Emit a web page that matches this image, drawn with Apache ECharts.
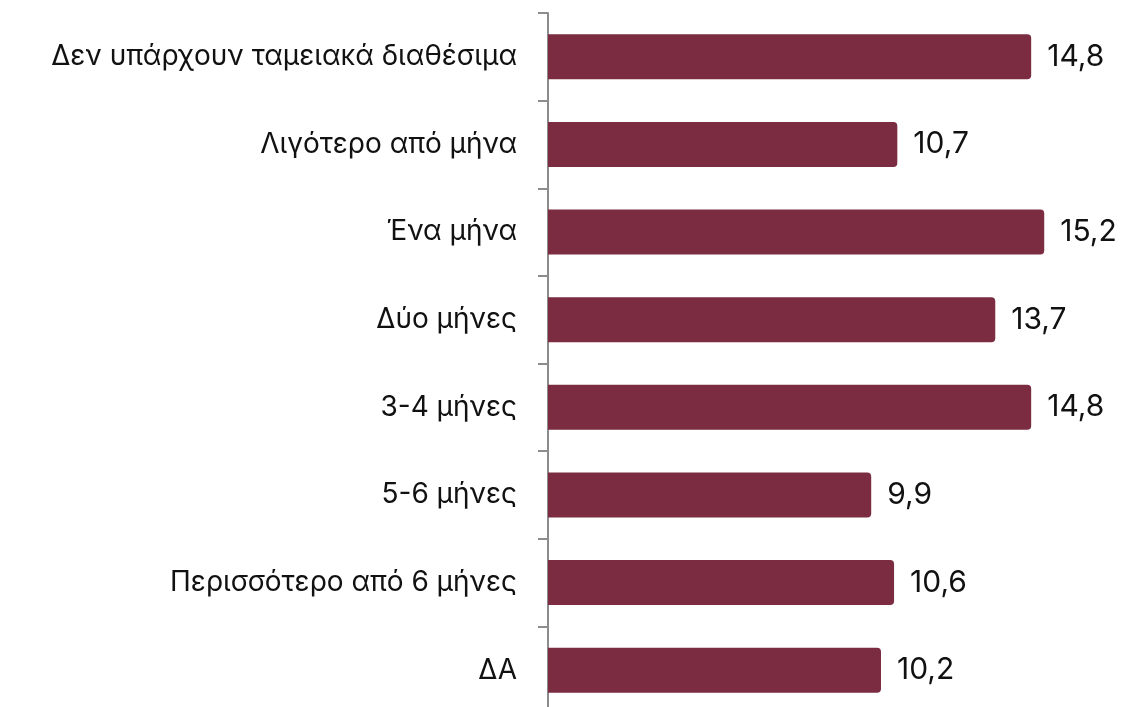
<!DOCTYPE html>
<html>
<head>
<meta charset="utf-8">
<script src="https://cdn.jsdelivr.net/npm/echarts@6/dist/echarts.min.js"></script>
<style>
html, body { margin: 0; padding: 0; background: #fff; overflow: hidden; }
#chart { width: 1124px; height: 720px; }
</style>
</head>
<body>
<div id="chart"></div>
<script>
// κατηγορίες από πάνω προς τα κάτω
var categories = ['Δεν υπάρχουν ταμειακά διαθέσιμα', 'Λιγότερο από μήνα', 'Ένα μήνα', 'Δύο μήνες', '3-4 μήνες', '5-6 μήνες', 'Περισσότερο από 6 μήνες', 'ΔΑ'];
var values = [14.8, 10.7, 15.2, 13.7, 14.8, 9.9, 10.6, 10.2];

var chart = echarts.init(document.getElementById('chart'));
chart.setOption({
    animation: false,
    grid: { left: 548, width: 555, top: 13, height: 701, containLabel: false },
    xAxis: {
        type: 'value',
        min: 0,
        max: 17,
        show: false
    },
    yAxis: {
        type: 'category',
        inverse: true,
        data: categories,
        axisLine: { show: true, lineStyle: { color: '#8c8c8c', width: 2 } },
        axisTick: { show: true, length: 10, lineStyle: { color: '#8c8c8c', width: 2 } },
        axisLabel: {
            margin: 31,
            color: '#111',
            fontSize: 28,
            fontFamily: 'Inter'
        }
    },
    series: [{
        type: 'bar',
        data: values,
        barWidth: '51.3%',
        itemStyle: { color: '#7b2c40', borderRadius: [0, 4, 4, 0] },
        label: {
            show: true,
            position: 'right',
            distance: 16,
            color: '#111',
            fontSize: 30,
            fontFamily: 'Inter',
            formatter: function (p) { return p.value.toFixed(1).replace('.', ','); }
        }
    }]
});
</script>
</body>
</html>
